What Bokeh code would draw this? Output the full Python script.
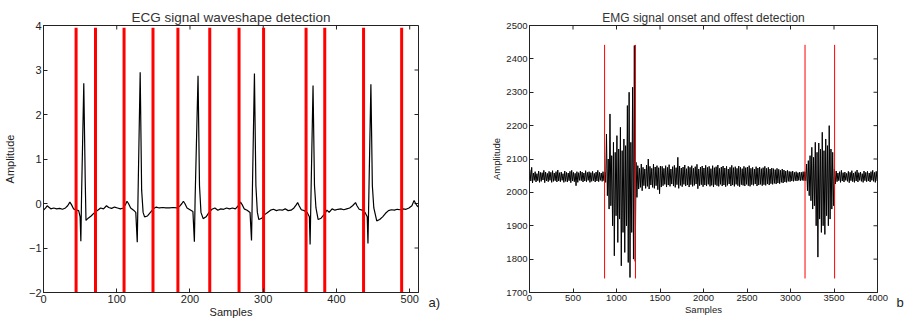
import math
from bokeh.plotting import figure
from bokeh.layouts import row
from bokeh.models import Range1d, FixedTicker
from bokeh.embed import file_html
from bokeh.resources import INLINE

# ---------------- ECG data (vertices) ----------------
ecg_samples = [0, 3, 5, 7, 10, 14, 18, 22, 26, 30, 33, 36, 38, 41, 45, 48, 50, 51, 52, 55, 57, 58, 61, 65, 70,
               74, 78, 82, 86, 89, 93, 97, 101, 105, 109, 112, 114, 116, 119, 123, 126, 128, 129, 132, 134,
               136, 138, 142, 146, 150, 154, 158, 163, 167, 172, 177, 182, 186, 189, 191, 193, 196, 200, 204,
               206, 207, 211, 213, 215, 218, 222, 226, 230, 234, 238, 242, 246, 250, 254, 258, 262, 266, 269,
               271, 274, 278, 282, 284, 285, 288, 290, 292, 294, 298, 302, 306, 310, 314, 318, 322, 326, 330,
               334, 338, 342, 345, 347, 349, 352, 356, 360, 363, 364, 365, 368, 370, 372, 375, 379, 383, 387,
               390, 394, 398, 402, 406, 410, 414, 418, 422, 426, 428, 431, 435, 439, 442, 443, 444, 447, 449,
               451, 455, 459, 463, 467, 471, 475, 479, 483, 487, 491, 495, 499, 503, 506, 508, 510, 512]
ecg_amplitude = [-0.15, -0.10, -0.05, -0.08, -0.12, -0.10, -0.12, -0.11, -0.13, -0.10, -0.05, 0.03, -0.02, -0.12,
                 -0.15, -0.16, -0.30, -0.85, 0.20, 2.70, 0.50, -0.38, -0.33, -0.28, -0.20,
                 -0.15, -0.10, -0.12, -0.05, -0.09, -0.11, -0.08, -0.10, -0.12, -0.10, -0.02, 0.05, 0.00, -0.10,
                 -0.15, -0.20, -0.87, 0.10, 2.95, 0.30,
                 -0.20, -0.30, -0.28, -0.20, -0.12, -0.08, -0.10, -0.09, -0.10, -0.10, -0.09, -0.10, -0.06, 0.00,
                 0.05, 0.00, -0.10, -0.14, -0.18,
                 -0.86, 0.10, 2.87, 0.40, -0.20, -0.34, -0.30, -0.20, -0.13, -0.10, -0.15, -0.12, -0.13, -0.10,
                 -0.12, -0.10, -0.12, -0.05, 0.03,
                 -0.02, -0.12, -0.15, -0.20, -0.83, 0.10, 2.92, 0.40, -0.20, -0.36, -0.33, -0.25, -0.20, -0.15,
                 -0.13, -0.16, -0.14, -0.15, -0.12,
                 -0.16, -0.15, -0.10, -0.03, 0.02, -0.05, -0.14, -0.16, -0.20, -0.30, -0.92, 0.00, 2.65, 0.40,
                 -0.10, -0.36, -0.33, -0.25, -0.15,
                 -0.20, -0.12, -0.15, -0.13, -0.12, -0.14, -0.12, -0.10, -0.05, 0.02, -0.05, -0.13, -0.15, -0.20,
                 -0.30, -0.90, 0.00, 2.68, 0.40,
                 -0.10, -0.39, -0.36, -0.30, -0.22, -0.16, -0.14, -0.15, -0.13, -0.14, -0.12, -0.13, -0.10, -0.05,
                 0.07, 0.00, -0.05, -0.08]
ecg_marks = [44.5, 71, 110, 149.5, 183.5, 227, 267, 300.5, 358.5, 384, 437, 489]
ecg_mark_bottom = -2.0
ecg_mark_top = 3.95
ecg_xrange = (0, 512)
ecg_yrange = (-2, 4)
ecg_xticks = [0, 100, 200, 300, 400, 500]
ecg_yticks = [-2, -1, 0, 1, 2, 3, 4]

# ---------------- EMG data: per 20-sample bin high / low values ----------------
emg_bin = 20
emg_hi = [
    # 0 - 860: rest
    2068, 2075, 2058, 2062, 2056, 2064, 2060, 2059, 2066, 2061,
    2057, 2063, 2060, 2065, 2058, 2062, 2067, 2059, 2061, 2056,
    2064, 2060, 2058, 2063, 2066, 2060, 2057, 2062, 2059, 2064,
    2061, 2058, 2065, 2060, 2062, 2059, 2063, 2057, 2061, 2066,
    2060, 2058, 2062,
    # 860 - 1220: first burst
    2060, 2175, 2100, 2235, 2110, 2150, 2120, 2170, 2130, 2195,
    2125, 2160, 2140, 2260, 2300, 2150, 2315, 2440,
    # 1220 - 1520
    2090, 2080, 2072, 2085, 2075, 2070, 2082, 2100, 2078, 2072, 2085, 2076, 2080, 2074, 2079,
    # 1520 - 3160
    2078, 2072, 2080, 2075, 2083, 2070, 2077, 2081, 2074, 2105,
    2079, 2073, 2076, 2082, 2071, 2078, 2075, 2080, 2072, 2077,
    2084, 2070, 2076, 2079, 2073, 2081, 2075, 2078, 2071, 2080,
    2074, 2077, 2082, 2072, 2076, 2079, 2073, 2078, 2070, 2075,
    2081, 2074, 2077, 2072, 2079, 2075, 2071, 2078, 2074, 2076,
    2080, 2072, 2075, 2070, 2077, 2073, 2076, 2071, 2074, 2078,
    2072, 2075, 2070, 2073, 2071, 2068, 2072, 2069, 2066, 2070,
    2067, 2064, 2066, 2063, 2062, 2064, 2060, 2062, 2059, 2061,
    2060, 2062,
    # 3160 - 3520: second burst
    2062, 2085, 2095, 2110, 2135, 2105, 2150, 2120, 2148, 2130,
    2180, 2125, 2160, 2140, 2200, 2130, 2120, 2070,
    # 3520 - 4000: rest
    2064, 2058, 2062, 2066, 2059, 2061, 2057, 2063, 2060, 2065, 2058, 2062,
    2067, 2059, 2061, 2056, 2064, 2060, 2063, 2058, 2062, 2066, 2060, 2063]
emg_lo = [
    2034, 2028, 2036, 2031, 2035, 2030, 2033, 2037, 2029, 2034,
    2032, 2036, 2030, 2033, 2035, 2031, 2034, 2032, 2036, 2030,
    2033, 2031, 2035, 2029, 2034, 2032, 2020, 2030, 2036, 2035,
    2031, 2034, 2032, 2036, 2030, 2033, 2035, 2031, 2034, 2032,
    2036, 2033, 2035,
    2030, 1990, 1950, 1960, 1900, 1810, 1930, 1850, 1920, 1780,
    1880, 1820, 1900, 1790, 1745, 1880, 1800, 1793,
    1985, 2010, 2015, 2005, 2020, 2012, 2018, 2010, 2022, 2015, 2012, 2020, 2008, 1996, 2016,
    2020, 2024, 2016, 2022, 2018, 2025, 2019, 2015, 2023, 2012,
    2021, 2017, 2024, 2019, 2022, 2016, 2023, 2018, 2021, 2025,
    2011, 2020, 2023, 2017, 2022, 2019, 2024, 2018, 2021, 2016,
    2023, 2020, 2018, 2024, 2019, 2022, 2017, 2021, 2025, 2019,
    2022, 2018, 2024, 2020, 2017, 2023, 2021, 2019, 2024, 2020,
    2018, 2023, 2021, 2025, 2019, 2022, 2024, 2020, 2023, 2021,
    2025, 2022, 2026, 2024, 2027, 2025, 2028, 2026, 2030, 2028,
    2031, 2030, 2033, 2032, 2034, 2033, 2035, 2034, 2036, 2035,
    2036, 2035,
    2035, 2005, 1990, 1975, 1950, 1960, 1900, 1806, 1920, 1880,
    1900, 1874, 1930, 1900, 1920, 1950, 1960, 2025,
    2032, 2035, 2030, 2034, 2031, 2036, 2033, 2029, 2035, 2032, 2030, 2034,
    2031, 2036, 2033, 2030, 2035, 2032, 2034, 2031, 2036, 2033, 2030, 2034]
emg_marks = [863, 1218, 3167, 3507]
emg_mark_bottom = 1742
emg_mark_top = 2442
emg_xrange = (0, 4000)
emg_yrange = (1700, 2500)
emg_xticks = [0, 500, 1000, 1500, 2000, 2500, 3000, 3500, 4000]
emg_yticks = [1700, 1800, 1900, 2000, 2100, 2200, 2300, 2400, 2500]

FONT = "Liberation Sans"
INK = "#222222"
H = 320


def style_axis(ax, ticks, fs, label, label_standoff):
    ax.ticker = FixedTicker(ticks=ticks)
    ax.major_tick_in = 4
    ax.major_tick_out = 0
    ax.minor_tick_in = 0
    ax.minor_tick_out = 0
    ax.axis_line_color = INK
    ax.major_tick_line_color = INK
    ax.major_label_text_font = FONT
    ax.major_label_text_color = INK
    ax.major_label_text_font_size = fs
    ax.major_label_standoff = 2
    ax.axis_label = label
    ax.axis_label_text_font = FONT
    ax.axis_label_text_font_style = "normal"
    ax.axis_label_text_font_size = fs
    ax.axis_label_text_color = INK
    ax.axis_label_standoff = label_standoff


def make_fig(width, xr, yr, title, title_fs, fs, bl, br, xticks, yticks, ylab_standoff):
    p = figure(width=width, height=H, x_range=Range1d(*xr), y_range=Range1d(*yr), title=title,
               output_backend="svg", toolbar_location=None,
               min_border_left=bl, min_border_right=br, min_border_top=25, min_border_bottom=4)
    p.xgrid.visible = False
    p.ygrid.visible = False
    p.outline_line_color = INK
    p.background_fill_color = "white"
    p.border_fill_color = "white"
    p.title.align = "center"
    p.title.text_font = FONT
    p.title.text_font_size = title_fs
    p.title.text_font_style = "normal"
    p.title.text_color = "#333333"
    p.title.standoff = 2
    style_axis(p.xaxis[0], xticks, fs, "Samples", 0)
    style_axis(p.yaxis[0], yticks, fs, "Amplitude", ylab_standoff)
    # inward ticks on the top and right edges (box on)
    p.scatter(xticks, [yr[1]] * len(xticks), marker="dash", angle=math.pi / 2, size=8,
              line_color=INK, line_width=1)
    p.scatter([xr[1]] * len(yticks), yticks, marker="dash", size=8, line_color=INK, line_width=1)
    return p


def tag_fig(width, text, offset):
    q = figure(width=width, height=H, title=text, title_location="below",
               output_backend="svg", toolbar_location=None, min_border=0,
               x_axis_location=None, y_axis_location=None)
    q.xgrid.visible = False
    q.ygrid.visible = False
    q.outline_line_color = None
    q.border_fill_color = "white"
    q.title.align = "left"
    q.title.offset = offset
    q.title.standoff = 0
    q.title.text_font = FONT
    q.title.text_font_size = "13px"
    q.title.text_font_style = "normal"
    q.title.text_color = INK
    return q


# ---------------- ECG figure ----------------
p1 = make_fig(420, ecg_xrange, ecg_yrange, "ECG signal waveshape detection", "13.5px", "11px", 40, 2,
              ecg_xticks, ecg_yticks, 10)
p1.line(ecg_samples, ecg_amplitude, line_color="black", line_width=1.2)
p1.segment(x0=ecg_marks, x1=ecg_marks, y0=[ecg_mark_bottom] * len(ecg_marks),
           y1=[ecg_mark_top] * len(ecg_marks), line_color="#ff0000", line_width=3)

pa = tag_fig(68, "a)", 8)

# ---------------- EMG figure ----------------
emg_x = []
emg_y = []
for i in range(len(emg_hi)):
    emg_x += [i * emg_bin + 5, i * emg_bin + 15]
    emg_y += [emg_hi[i], emg_lo[i]]

p2 = make_fig(406, emg_xrange, emg_yrange, "EMG signal onset and offest detection", "12px", "9.5px", 40, 17,
              emg_xticks, emg_yticks, 1)
p2.line(emg_x, emg_y, line_color="black", line_width=1)
p2.segment(x0=emg_marks, x1=emg_marks, y0=[emg_mark_bottom] * len(emg_marks),
           y1=[emg_mark_top] * len(emg_marks), line_color="#ff0000", line_width=1)

pb = tag_fig(10, "b", 2)

layout = row(p1, pa, p2, pb)
open("out.html", "w").write(file_html(layout, INLINE))
